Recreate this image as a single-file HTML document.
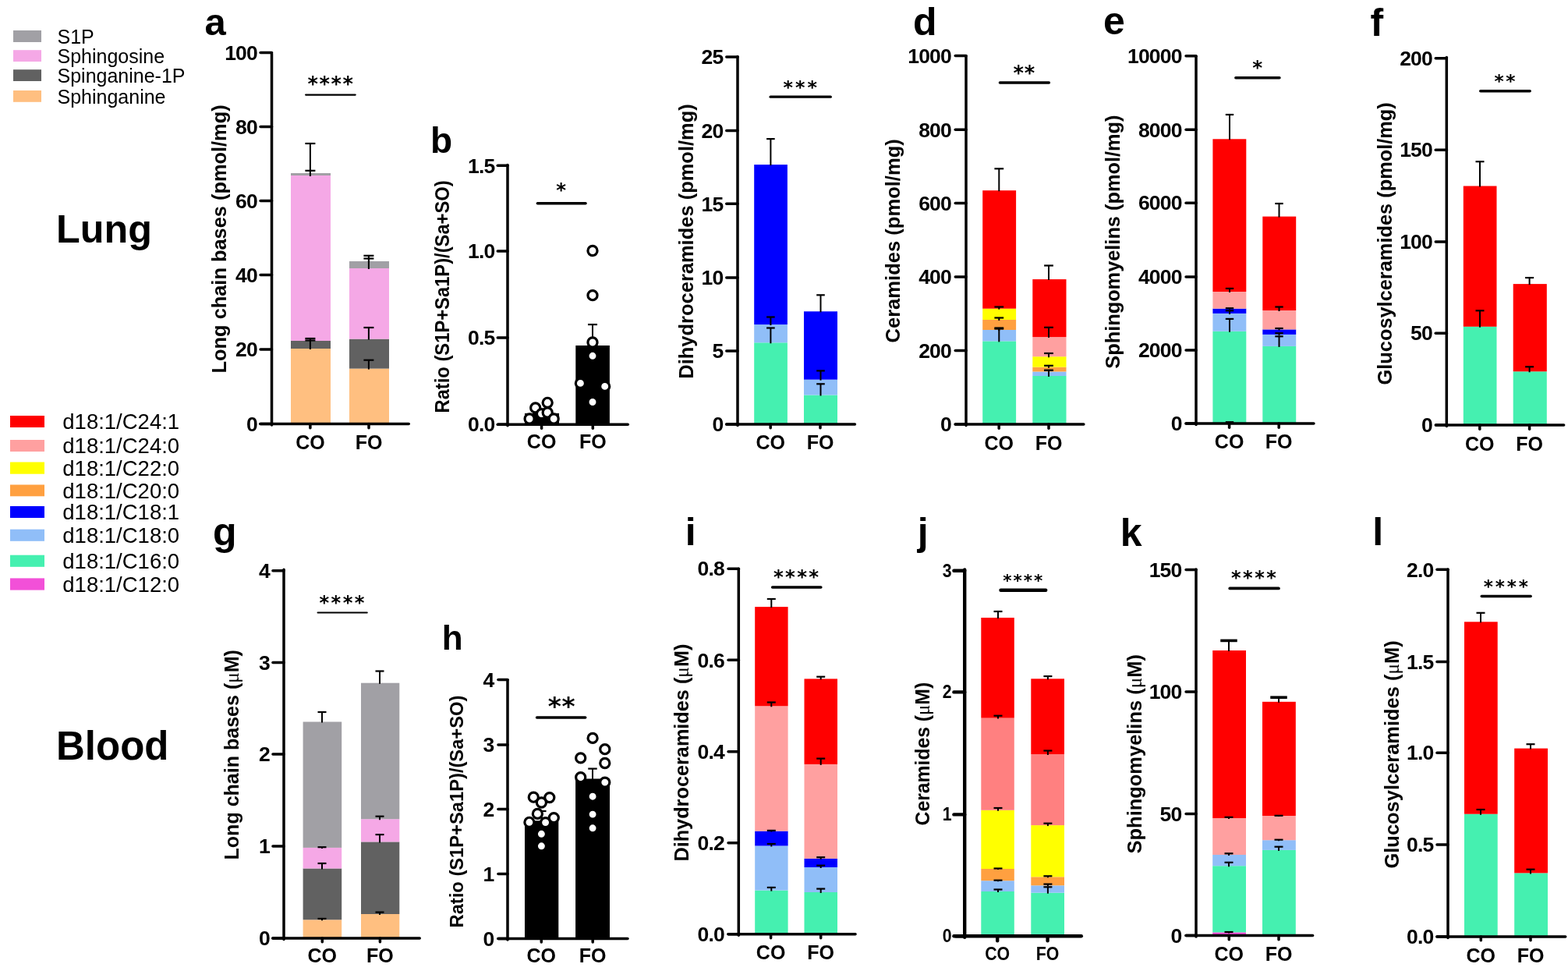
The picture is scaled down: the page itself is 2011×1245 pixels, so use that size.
<!DOCTYPE html>
<html><head><meta charset="utf-8"><title>Sphingolipid profiles in lung and blood</title>
<style>html,body{margin:0;padding:0;background:#fff;width:2011px;height:1245px;overflow:hidden}svg{display:block}</style>
</head><body>
<svg width="2011" height="1245" viewBox="0 0 2011 1245">
<rect width="2011" height="1245" fill="#fff"/>
<rect x="373" y="447" width="51" height="96.5" fill="#FFBF80"/>
<rect x="373" y="437" width="51" height="10" fill="#616161"/>
<rect x="373" y="225" width="51" height="212" fill="#F5A8E6"/>
<rect x="373" y="222" width="51" height="3" fill="#A1A0A5"/>
<rect x="448" y="472.6" width="51" height="70.9" fill="#FFBF80"/>
<rect x="448" y="434.6" width="51" height="38" fill="#616161"/>
<rect x="448" y="344" width="51" height="90.6" fill="#F5A8E6"/>
<rect x="448" y="335" width="51" height="9" fill="#A1A0A5"/>
<line x1="397.9" y1="226" x2="397.9" y2="218.8" stroke="#000" stroke-width="2" stroke-linecap="butt"/>
<line x1="391.4" y1="218.8" x2="404.4" y2="218.8" stroke="#000" stroke-width="2.2" stroke-linecap="butt"/>
<line x1="397.9" y1="223" x2="397.9" y2="184" stroke="#000" stroke-width="2" stroke-linecap="butt"/>
<line x1="391.4" y1="184" x2="404.4" y2="184" stroke="#000" stroke-width="2.2" stroke-linecap="butt"/>
<line x1="397.9" y1="448" x2="397.9" y2="436.5" stroke="#000" stroke-width="2" stroke-linecap="butt"/>
<line x1="391.4" y1="436.5" x2="404.4" y2="436.5" stroke="#000" stroke-width="2.2" stroke-linecap="butt"/>
<line x1="397.9" y1="438" x2="397.9" y2="434" stroke="#000" stroke-width="2" stroke-linecap="butt"/>
<line x1="391.4" y1="434" x2="404.4" y2="434" stroke="#000" stroke-width="2.2" stroke-linecap="butt"/>
<line x1="472.9" y1="336" x2="472.9" y2="327.8" stroke="#000" stroke-width="2" stroke-linecap="butt"/>
<line x1="466.4" y1="327.8" x2="479.4" y2="327.8" stroke="#000" stroke-width="2.2" stroke-linecap="butt"/>
<line x1="472.9" y1="345" x2="472.9" y2="331.5" stroke="#000" stroke-width="2" stroke-linecap="butt"/>
<line x1="466.4" y1="331.5" x2="479.4" y2="331.5" stroke="#000" stroke-width="2.2" stroke-linecap="butt"/>
<line x1="472.9" y1="435.6" x2="472.9" y2="420" stroke="#000" stroke-width="2" stroke-linecap="butt"/>
<line x1="466.4" y1="420" x2="479.4" y2="420" stroke="#000" stroke-width="2.2" stroke-linecap="butt"/>
<line x1="472.9" y1="473.6" x2="472.9" y2="461.7" stroke="#000" stroke-width="2" stroke-linecap="butt"/>
<line x1="466.4" y1="461.7" x2="479.4" y2="461.7" stroke="#000" stroke-width="2.2" stroke-linecap="butt"/>
<line x1="348.5" y1="68.75" x2="348.5" y2="545" stroke="#000" stroke-width="3.5" stroke-linecap="round"/>
<line x1="333.75" y1="543.5" x2="524.25" y2="543.5" stroke="#000" stroke-width="3.5" stroke-linecap="round"/>
<line x1="334.05" y1="67.5" x2="348.5" y2="67.5" stroke="#000" stroke-width="3.5" stroke-linecap="round"/>
<text x="330" y="76.7" font-family='"Liberation Sans", Arial, Helvetica, sans-serif' font-size="26.5" font-weight="bold" text-anchor="end" letter-spacing="-0.8">100</text>
<line x1="334.05" y1="162.6" x2="348.5" y2="162.6" stroke="#000" stroke-width="3.5" stroke-linecap="round"/>
<text x="330" y="171.8" font-family='"Liberation Sans", Arial, Helvetica, sans-serif' font-size="26.5" font-weight="bold" text-anchor="end" letter-spacing="-0.8">80</text>
<line x1="334.05" y1="257.6" x2="348.5" y2="257.6" stroke="#000" stroke-width="3.5" stroke-linecap="round"/>
<text x="330" y="266.8" font-family='"Liberation Sans", Arial, Helvetica, sans-serif' font-size="26.5" font-weight="bold" text-anchor="end" letter-spacing="-0.8">60</text>
<line x1="334.05" y1="352.5" x2="348.5" y2="352.5" stroke="#000" stroke-width="3.5" stroke-linecap="round"/>
<text x="330" y="361.7" font-family='"Liberation Sans", Arial, Helvetica, sans-serif' font-size="26.5" font-weight="bold" text-anchor="end" letter-spacing="-0.8">40</text>
<line x1="334.05" y1="448" x2="348.5" y2="448" stroke="#000" stroke-width="3.5" stroke-linecap="round"/>
<text x="330" y="457.2" font-family='"Liberation Sans", Arial, Helvetica, sans-serif' font-size="26.5" font-weight="bold" text-anchor="end" letter-spacing="-0.8">20</text>
<line x1="334.05" y1="543.5" x2="348.5" y2="543.5" stroke="#000" stroke-width="3.5" stroke-linecap="round"/>
<text x="330" y="552.7" font-family='"Liberation Sans", Arial, Helvetica, sans-serif' font-size="26.5" font-weight="bold" text-anchor="end" letter-spacing="-0.8">0</text>
<line x1="397.9" y1="543.5" x2="397.9" y2="548.75" stroke="#000" stroke-width="3.5" stroke-linecap="round"/>
<text x="397.9" y="576" font-family='"Liberation Sans", Arial, Helvetica, sans-serif' font-size="25" font-weight="bold" text-anchor="middle">CO</text>
<line x1="473" y1="543.5" x2="473" y2="548.75" stroke="#000" stroke-width="3.5" stroke-linecap="round"/>
<text x="473" y="576" font-family='"Liberation Sans", Arial, Helvetica, sans-serif' font-size="25" font-weight="bold" text-anchor="middle">FO</text>
<text transform="translate(290,478.4) rotate(-90)" font-family='"Liberation Sans", Arial, Helvetica, sans-serif' font-size="26" font-weight="bold" textLength="344" lengthAdjust="spacingAndGlyphs">Long chain bases (pmol/mg)</text>
<line x1="392.15" y1="121.6" x2="455.65" y2="121.6" stroke="#000" stroke-width="2.3" stroke-linecap="round"/>
<text x="394.49" y="116.64" font-family='"DejaVu Sans", sans-serif' font-weight="bold" font-size="25.67" letter-spacing="1.56">****</text>
<text x="262.5" y="44.5" font-family='"Liberation Sans", Arial, Helvetica, sans-serif' font-size="49" font-weight="bold" text-anchor="start">a</text>
<rect x="673" y="529.9" width="44" height="14.3" fill="#000000"/>
<rect x="738.3" y="443" width="43.6" height="101.2" fill="#000000"/>
<line x1="760" y1="444" x2="760" y2="416.1" stroke="#000" stroke-width="2" stroke-linecap="butt"/>
<line x1="754" y1="416.1" x2="766" y2="416.1" stroke="#000" stroke-width="2.2" stroke-linecap="butt"/>
<circle cx="679.1" cy="537" r="6.05" fill="#fff" stroke="#000" stroke-width="3.2"/>
<circle cx="686.7" cy="522.9" r="6.05" fill="#fff" stroke="#000" stroke-width="3.2"/>
<circle cx="702.2" cy="516.3" r="6.05" fill="#fff" stroke="#000" stroke-width="3.2"/>
<circle cx="694.5" cy="530.6" r="6.05" fill="#fff" stroke="#000" stroke-width="3.2"/>
<circle cx="702.2" cy="529" r="6.05" fill="#fff" stroke="#000" stroke-width="3.2"/>
<circle cx="710.2" cy="537" r="6.05" fill="#fff" stroke="#000" stroke-width="3.2"/>
<circle cx="760" cy="321.5" r="6.05" fill="#fff" stroke="#000" stroke-width="3.2"/>
<circle cx="760" cy="378.7" r="6.05" fill="#fff" stroke="#000" stroke-width="3.2"/>
<circle cx="760" cy="439" r="6.05" fill="#fff" stroke="#000" stroke-width="3.2"/>
<circle cx="760" cy="456.3" r="6.05" fill="#fff" stroke="#000" stroke-width="3.2"/>
<circle cx="744.4" cy="491.4" r="6.05" fill="#fff" stroke="#000" stroke-width="3.2"/>
<circle cx="775.7" cy="495.4" r="6.05" fill="#fff" stroke="#000" stroke-width="3.2"/>
<circle cx="760" cy="515.5" r="6.05" fill="#fff" stroke="#000" stroke-width="3.2"/>
<line x1="651" y1="211.45" x2="651" y2="545.7" stroke="#000" stroke-width="3.5" stroke-linecap="round"/>
<line x1="638.75" y1="544.2" x2="805.25" y2="544.2" stroke="#000" stroke-width="3.5" stroke-linecap="round"/>
<line x1="638.25" y1="212.3" x2="651" y2="212.3" stroke="#000" stroke-width="3.5" stroke-linecap="round"/>
<text x="634.5" y="221.5" font-family='"Liberation Sans", Arial, Helvetica, sans-serif' font-size="26.5" font-weight="bold" text-anchor="end" letter-spacing="-0.8">1.5</text>
<line x1="638.25" y1="322" x2="651" y2="322" stroke="#000" stroke-width="3.5" stroke-linecap="round"/>
<text x="634.5" y="331.2" font-family='"Liberation Sans", Arial, Helvetica, sans-serif' font-size="26.5" font-weight="bold" text-anchor="end" letter-spacing="-0.8">1.0</text>
<line x1="638.25" y1="433" x2="651" y2="433" stroke="#000" stroke-width="3.5" stroke-linecap="round"/>
<text x="634.5" y="442.2" font-family='"Liberation Sans", Arial, Helvetica, sans-serif' font-size="26.5" font-weight="bold" text-anchor="end" letter-spacing="-0.8">0.5</text>
<line x1="638.25" y1="544.2" x2="651" y2="544.2" stroke="#000" stroke-width="3.5" stroke-linecap="round"/>
<text x="634.5" y="553.4" font-family='"Liberation Sans", Arial, Helvetica, sans-serif' font-size="26.5" font-weight="bold" text-anchor="end" letter-spacing="-0.8">0.0</text>
<line x1="694.6" y1="544.2" x2="694.6" y2="549.25" stroke="#000" stroke-width="3.5" stroke-linecap="round"/>
<text x="694.6" y="575.1" font-family='"Liberation Sans", Arial, Helvetica, sans-serif' font-size="25" font-weight="bold" text-anchor="middle">CO</text>
<line x1="760.3" y1="544.2" x2="760.3" y2="549.25" stroke="#000" stroke-width="3.5" stroke-linecap="round"/>
<text x="760.3" y="575.1" font-family='"Liberation Sans", Arial, Helvetica, sans-serif' font-size="25" font-weight="bold" text-anchor="middle">FO</text>
<text transform="translate(576,529.5) rotate(-90)" font-family='"Liberation Sans", Arial, Helvetica, sans-serif' font-size="25" font-weight="bold" textLength="298.2" lengthAdjust="spacingAndGlyphs">Ratio (S1P+Sa1P)/(Sa+SO)</text>
<line x1="689.35" y1="260.7" x2="751.05" y2="260.7" stroke="#000" stroke-width="3.5" stroke-linecap="round"/>
<text x="713.21" y="252.39" font-family='"DejaVu Sans", sans-serif' font-weight="bold" font-size="24.44" letter-spacing="0">*</text>
<text x="552" y="196.3" font-family='"Liberation Sans", Arial, Helvetica, sans-serif' font-size="46" font-weight="bold" text-anchor="start">b</text>
<rect x="967.2" y="439.3" width="42.7" height="104.6" fill="#45F0B0"/>
<rect x="967.2" y="416.1" width="42.7" height="23.2" fill="#90BEF8"/>
<rect x="967.2" y="211.1" width="42.7" height="205" fill="#0000FF"/>
<rect x="1031" y="506.5" width="43" height="37.4" fill="#45F0B0"/>
<rect x="1031" y="486.7" width="43" height="19.8" fill="#90BEF8"/>
<rect x="1031" y="399.3" width="43" height="87.4" fill="#0000FF"/>
<line x1="988.4" y1="212.1" x2="988.4" y2="178.1" stroke="#000" stroke-width="2" stroke-linecap="butt"/>
<line x1="983.1" y1="178.1" x2="993.7" y2="178.1" stroke="#000" stroke-width="2.2" stroke-linecap="butt"/>
<line x1="988.4" y1="417.1" x2="988.4" y2="406.5" stroke="#000" stroke-width="2" stroke-linecap="butt"/>
<line x1="983.1" y1="406.5" x2="993.7" y2="406.5" stroke="#000" stroke-width="2.2" stroke-linecap="butt"/>
<line x1="988.4" y1="440.3" x2="988.4" y2="420.5" stroke="#000" stroke-width="2" stroke-linecap="butt"/>
<line x1="983.1" y1="420.5" x2="993.7" y2="420.5" stroke="#000" stroke-width="2.2" stroke-linecap="butt"/>
<line x1="1052.5" y1="400.3" x2="1052.5" y2="378.3" stroke="#000" stroke-width="2" stroke-linecap="butt"/>
<line x1="1047.2" y1="378.3" x2="1057.8" y2="378.3" stroke="#000" stroke-width="2.2" stroke-linecap="butt"/>
<line x1="1052.5" y1="487.7" x2="1052.5" y2="475.4" stroke="#000" stroke-width="2" stroke-linecap="butt"/>
<line x1="1047.2" y1="475.4" x2="1057.8" y2="475.4" stroke="#000" stroke-width="2.2" stroke-linecap="butt"/>
<line x1="1052.5" y1="507.5" x2="1052.5" y2="492.3" stroke="#000" stroke-width="2" stroke-linecap="butt"/>
<line x1="1047.2" y1="492.3" x2="1057.8" y2="492.3" stroke="#000" stroke-width="2.2" stroke-linecap="butt"/>
<line x1="946" y1="72.45" x2="946" y2="545.4" stroke="#000" stroke-width="3.5" stroke-linecap="round"/>
<line x1="931.75" y1="543.9" x2="1096.45" y2="543.9" stroke="#000" stroke-width="3.5" stroke-linecap="round"/>
<line x1="931.75" y1="73.1" x2="946" y2="73.1" stroke="#000" stroke-width="3.5" stroke-linecap="round"/>
<text x="927.5" y="82.3" font-family='"Liberation Sans", Arial, Helvetica, sans-serif' font-size="26.5" font-weight="bold" text-anchor="end" letter-spacing="-0.8">25</text>
<line x1="931.75" y1="167.5" x2="946" y2="167.5" stroke="#000" stroke-width="3.5" stroke-linecap="round"/>
<text x="927.5" y="176.7" font-family='"Liberation Sans", Arial, Helvetica, sans-serif' font-size="26.5" font-weight="bold" text-anchor="end" letter-spacing="-0.8">20</text>
<line x1="931.75" y1="261.3" x2="946" y2="261.3" stroke="#000" stroke-width="3.5" stroke-linecap="round"/>
<text x="927.5" y="270.5" font-family='"Liberation Sans", Arial, Helvetica, sans-serif' font-size="26.5" font-weight="bold" text-anchor="end" letter-spacing="-0.8">15</text>
<line x1="931.75" y1="355.9" x2="946" y2="355.9" stroke="#000" stroke-width="3.5" stroke-linecap="round"/>
<text x="927.5" y="365.1" font-family='"Liberation Sans", Arial, Helvetica, sans-serif' font-size="26.5" font-weight="bold" text-anchor="end" letter-spacing="-0.8">10</text>
<line x1="931.75" y1="449.9" x2="946" y2="449.9" stroke="#000" stroke-width="3.5" stroke-linecap="round"/>
<text x="927.5" y="459.1" font-family='"Liberation Sans", Arial, Helvetica, sans-serif' font-size="26.5" font-weight="bold" text-anchor="end" letter-spacing="-0.8">5</text>
<line x1="931.75" y1="543.9" x2="946" y2="543.9" stroke="#000" stroke-width="3.5" stroke-linecap="round"/>
<text x="927.5" y="553.1" font-family='"Liberation Sans", Arial, Helvetica, sans-serif' font-size="26.5" font-weight="bold" text-anchor="end" letter-spacing="-0.8">0</text>
<line x1="988.2" y1="543.9" x2="988.2" y2="548.85" stroke="#000" stroke-width="3.5" stroke-linecap="round"/>
<text x="988.2" y="576" font-family='"Liberation Sans", Arial, Helvetica, sans-serif' font-size="25" font-weight="bold" text-anchor="middle">CO</text>
<line x1="1052" y1="543.9" x2="1052" y2="548.85" stroke="#000" stroke-width="3.5" stroke-linecap="round"/>
<text x="1052" y="576" font-family='"Liberation Sans", Arial, Helvetica, sans-serif' font-size="25" font-weight="bold" text-anchor="middle">FO</text>
<text transform="translate(889,485.7) rotate(-90)" font-family='"Liberation Sans", Arial, Helvetica, sans-serif' font-size="25" font-weight="bold" textLength="352.5" lengthAdjust="spacingAndGlyphs">Dihydroceramides (pmol/mg)</text>
<line x1="988.1" y1="124.2" x2="1065.3" y2="124.2" stroke="#000" stroke-width="3.2" stroke-linecap="round"/>
<text x="1004.52" y="119.5" font-family='"DejaVu Sans", sans-serif' font-weight="bold" font-size="23.78" letter-spacing="3.08">***</text>
<rect x="1260.2" y="437.4" width="42.9" height="106.6" fill="#45F0B0"/>
<rect x="1260.2" y="423" width="42.9" height="14.4" fill="#90BEF8"/>
<rect x="1260.2" y="410" width="42.9" height="13" fill="#FFA040"/>
<rect x="1260.2" y="395.7" width="42.9" height="14.3" fill="#FFFF00"/>
<rect x="1260.2" y="244.2" width="42.9" height="151.5" fill="#FF0000"/>
<rect x="1324.3" y="482" width="43.2" height="62" fill="#45F0B0"/>
<rect x="1324.3" y="476.5" width="43.2" height="5.5" fill="#90BEF8"/>
<rect x="1324.3" y="470.7" width="43.2" height="5.8" fill="#FFA040"/>
<rect x="1324.3" y="457.2" width="43.2" height="13.5" fill="#FFFF00"/>
<rect x="1324.3" y="432.1" width="43.2" height="25.1" fill="#FFA0A0"/>
<rect x="1324.3" y="358.1" width="43.2" height="74" fill="#FF0000"/>
<line x1="1281.3" y1="245.2" x2="1281.3" y2="216.3" stroke="#000" stroke-width="2" stroke-linecap="butt"/>
<line x1="1275.4" y1="216.3" x2="1287.2" y2="216.3" stroke="#000" stroke-width="2.2" stroke-linecap="butt"/>
<line x1="1281.3" y1="396.7" x2="1281.3" y2="393.5" stroke="#000" stroke-width="2" stroke-linecap="butt"/>
<line x1="1275.4" y1="393.5" x2="1287.2" y2="393.5" stroke="#000" stroke-width="2.2" stroke-linecap="butt"/>
<line x1="1281.3" y1="411" x2="1281.3" y2="407.5" stroke="#000" stroke-width="2" stroke-linecap="butt"/>
<line x1="1275.4" y1="407.5" x2="1287.2" y2="407.5" stroke="#000" stroke-width="2.2" stroke-linecap="butt"/>
<line x1="1281.3" y1="424" x2="1281.3" y2="420.5" stroke="#000" stroke-width="2" stroke-linecap="butt"/>
<line x1="1275.4" y1="420.5" x2="1287.2" y2="420.5" stroke="#000" stroke-width="2.2" stroke-linecap="butt"/>
<line x1="1281.3" y1="438.4" x2="1281.3" y2="421.5" stroke="#000" stroke-width="2" stroke-linecap="butt"/>
<line x1="1275.4" y1="421.5" x2="1287.2" y2="421.5" stroke="#000" stroke-width="2.2" stroke-linecap="butt"/>
<line x1="1345" y1="359.1" x2="1345" y2="340.5" stroke="#000" stroke-width="2" stroke-linecap="butt"/>
<line x1="1339.1" y1="340.5" x2="1350.9" y2="340.5" stroke="#000" stroke-width="2.2" stroke-linecap="butt"/>
<line x1="1345" y1="433.1" x2="1345" y2="419.8" stroke="#000" stroke-width="2" stroke-linecap="butt"/>
<line x1="1339.1" y1="419.8" x2="1350.9" y2="419.8" stroke="#000" stroke-width="2.2" stroke-linecap="butt"/>
<line x1="1345" y1="458.2" x2="1345" y2="453" stroke="#000" stroke-width="2" stroke-linecap="butt"/>
<line x1="1339.1" y1="453" x2="1350.9" y2="453" stroke="#000" stroke-width="2.2" stroke-linecap="butt"/>
<line x1="1345" y1="471.7" x2="1345" y2="468.8" stroke="#000" stroke-width="2" stroke-linecap="butt"/>
<line x1="1339.1" y1="468.8" x2="1350.9" y2="468.8" stroke="#000" stroke-width="2.2" stroke-linecap="butt"/>
<line x1="1345" y1="477.5" x2="1345" y2="474.8" stroke="#000" stroke-width="2" stroke-linecap="butt"/>
<line x1="1339.1" y1="474.8" x2="1350.9" y2="474.8" stroke="#000" stroke-width="2.2" stroke-linecap="butt"/>
<line x1="1345" y1="483" x2="1345" y2="474.8" stroke="#000" stroke-width="2" stroke-linecap="butt"/>
<line x1="1339.1" y1="474.8" x2="1350.9" y2="474.8" stroke="#000" stroke-width="2.2" stroke-linecap="butt"/>
<line x1="1239" y1="71.65" x2="1239" y2="545.5" stroke="#000" stroke-width="3.5" stroke-linecap="round"/>
<line x1="1225.25" y1="544" x2="1389.85" y2="544" stroke="#000" stroke-width="3.5" stroke-linecap="round"/>
<line x1="1225.25" y1="71.6" x2="1239" y2="71.6" stroke="#000" stroke-width="3.5" stroke-linecap="round"/>
<text x="1220" y="80.8" font-family='"Liberation Sans", Arial, Helvetica, sans-serif' font-size="26.5" font-weight="bold" text-anchor="end" letter-spacing="-0.8">1000</text>
<line x1="1225.25" y1="166.3" x2="1239" y2="166.3" stroke="#000" stroke-width="3.5" stroke-linecap="round"/>
<text x="1220" y="175.5" font-family='"Liberation Sans", Arial, Helvetica, sans-serif' font-size="26.5" font-weight="bold" text-anchor="end" letter-spacing="-0.8">800</text>
<line x1="1225.25" y1="260.4" x2="1239" y2="260.4" stroke="#000" stroke-width="3.5" stroke-linecap="round"/>
<text x="1220" y="269.6" font-family='"Liberation Sans", Arial, Helvetica, sans-serif' font-size="26.5" font-weight="bold" text-anchor="end" letter-spacing="-0.8">600</text>
<line x1="1225.25" y1="355" x2="1239" y2="355" stroke="#000" stroke-width="3.5" stroke-linecap="round"/>
<text x="1220" y="364.2" font-family='"Liberation Sans", Arial, Helvetica, sans-serif' font-size="26.5" font-weight="bold" text-anchor="end" letter-spacing="-0.8">400</text>
<line x1="1225.25" y1="449.5" x2="1239" y2="449.5" stroke="#000" stroke-width="3.5" stroke-linecap="round"/>
<text x="1220" y="458.7" font-family='"Liberation Sans", Arial, Helvetica, sans-serif' font-size="26.5" font-weight="bold" text-anchor="end" letter-spacing="-0.8">200</text>
<line x1="1225.25" y1="544" x2="1239" y2="544" stroke="#000" stroke-width="3.5" stroke-linecap="round"/>
<text x="1220" y="553.2" font-family='"Liberation Sans", Arial, Helvetica, sans-serif' font-size="26.5" font-weight="bold" text-anchor="end" letter-spacing="-0.8">0</text>
<line x1="1281.2" y1="544" x2="1281.2" y2="549.25" stroke="#000" stroke-width="3.5" stroke-linecap="round"/>
<text x="1281.2" y="576.8" font-family='"Liberation Sans", Arial, Helvetica, sans-serif' font-size="25" font-weight="bold" text-anchor="middle">CO</text>
<line x1="1345" y1="544" x2="1345" y2="549.25" stroke="#000" stroke-width="3.5" stroke-linecap="round"/>
<text x="1345" y="576.8" font-family='"Liberation Sans", Arial, Helvetica, sans-serif' font-size="25" font-weight="bold" text-anchor="middle">FO</text>
<text transform="translate(1153.5,439.5) rotate(-90)" font-family='"Liberation Sans", Arial, Helvetica, sans-serif' font-size="25" font-weight="bold" textLength="261.3" lengthAdjust="spacingAndGlyphs">Ceramides (pmol/mg)</text>
<line x1="1282.45" y1="105.9" x2="1345.35" y2="105.9" stroke="#000" stroke-width="3.5" stroke-linecap="round"/>
<text x="1299.48" y="102.78" font-family='"DejaVu Sans", sans-serif' font-weight="bold" font-size="25.78" letter-spacing="0.9">**</text>
<text x="1171" y="44.6" font-family='"Liberation Sans", Arial, Helvetica, sans-serif' font-size="50" font-weight="bold" text-anchor="start">d</text>
<rect x="1555.4" y="424.8" width="42.9" height="118.2" fill="#45F0B0"/>
<rect x="1555.4" y="401.9" width="42.9" height="22.9" fill="#90BEF8"/>
<rect x="1555.4" y="395.7" width="42.9" height="6.2" fill="#0000FF"/>
<rect x="1555.4" y="374" width="42.9" height="21.7" fill="#FFA0A0"/>
<rect x="1555.4" y="178.3" width="42.9" height="195.7" fill="#FF0000"/>
<rect x="1619.3" y="443.9" width="42.9" height="99.1" fill="#45F0B0"/>
<rect x="1619.3" y="428.9" width="42.9" height="15" fill="#90BEF8"/>
<rect x="1619.3" y="422.4" width="42.9" height="6.5" fill="#0000FF"/>
<rect x="1619.3" y="398" width="42.9" height="24.4" fill="#FFA0A0"/>
<rect x="1619.3" y="277.6" width="42.9" height="120.4" fill="#FF0000"/>
<line x1="1577" y1="179.3" x2="1577" y2="147" stroke="#000" stroke-width="2" stroke-linecap="butt"/>
<line x1="1571.8" y1="147" x2="1582.2" y2="147" stroke="#000" stroke-width="2.2" stroke-linecap="butt"/>
<line x1="1577" y1="375" x2="1577" y2="369.9" stroke="#000" stroke-width="2" stroke-linecap="butt"/>
<line x1="1571.8" y1="369.9" x2="1582.2" y2="369.9" stroke="#000" stroke-width="2.2" stroke-linecap="butt"/>
<line x1="1577" y1="396.7" x2="1577" y2="395.2" stroke="#000" stroke-width="2" stroke-linecap="butt"/>
<line x1="1571.8" y1="395.2" x2="1582.2" y2="395.2" stroke="#000" stroke-width="2.2" stroke-linecap="butt"/>
<line x1="1577" y1="402.9" x2="1577" y2="398.3" stroke="#000" stroke-width="2" stroke-linecap="butt"/>
<line x1="1571.8" y1="398.3" x2="1582.2" y2="398.3" stroke="#000" stroke-width="2.2" stroke-linecap="butt"/>
<line x1="1577" y1="425.8" x2="1577" y2="408.9" stroke="#000" stroke-width="2" stroke-linecap="butt"/>
<line x1="1571.8" y1="408.9" x2="1582.2" y2="408.9" stroke="#000" stroke-width="2.2" stroke-linecap="butt"/>
<line x1="1577" y1="542.5" x2="1577" y2="541.2" stroke="#000" stroke-width="2" stroke-linecap="butt"/>
<line x1="1571.8" y1="541.2" x2="1582.2" y2="541.2" stroke="#000" stroke-width="2.2" stroke-linecap="butt"/>
<line x1="1640.5" y1="278.6" x2="1640.5" y2="261" stroke="#000" stroke-width="2" stroke-linecap="butt"/>
<line x1="1635.3" y1="261" x2="1645.7" y2="261" stroke="#000" stroke-width="2.2" stroke-linecap="butt"/>
<line x1="1640.5" y1="399" x2="1640.5" y2="393.5" stroke="#000" stroke-width="2" stroke-linecap="butt"/>
<line x1="1635.3" y1="393.5" x2="1645.7" y2="393.5" stroke="#000" stroke-width="2.2" stroke-linecap="butt"/>
<line x1="1640.5" y1="423.4" x2="1640.5" y2="421" stroke="#000" stroke-width="2" stroke-linecap="butt"/>
<line x1="1635.3" y1="421" x2="1645.7" y2="421" stroke="#000" stroke-width="2.2" stroke-linecap="butt"/>
<line x1="1640.5" y1="429.9" x2="1640.5" y2="427.2" stroke="#000" stroke-width="2" stroke-linecap="butt"/>
<line x1="1635.3" y1="427.2" x2="1645.7" y2="427.2" stroke="#000" stroke-width="2.2" stroke-linecap="butt"/>
<line x1="1640.5" y1="444.9" x2="1640.5" y2="431.3" stroke="#000" stroke-width="2" stroke-linecap="butt"/>
<line x1="1635.3" y1="431.3" x2="1645.7" y2="431.3" stroke="#000" stroke-width="2.2" stroke-linecap="butt"/>
<line x1="1534" y1="72.35" x2="1534" y2="544.5" stroke="#000" stroke-width="3.5" stroke-linecap="round"/>
<line x1="1521.05" y1="543" x2="1684.95" y2="543" stroke="#000" stroke-width="3.5" stroke-linecap="round"/>
<line x1="1521.05" y1="71.8" x2="1534" y2="71.8" stroke="#000" stroke-width="3.5" stroke-linecap="round"/>
<text x="1515.7" y="81" font-family='"Liberation Sans", Arial, Helvetica, sans-serif' font-size="26.5" font-weight="bold" text-anchor="end" letter-spacing="-0.8">10000</text>
<line x1="1521.05" y1="166.3" x2="1534" y2="166.3" stroke="#000" stroke-width="3.5" stroke-linecap="round"/>
<text x="1515.7" y="175.5" font-family='"Liberation Sans", Arial, Helvetica, sans-serif' font-size="26.5" font-weight="bold" text-anchor="end" letter-spacing="-0.8">8000</text>
<line x1="1521.05" y1="260.2" x2="1534" y2="260.2" stroke="#000" stroke-width="3.5" stroke-linecap="round"/>
<text x="1515.7" y="269.4" font-family='"Liberation Sans", Arial, Helvetica, sans-serif' font-size="26.5" font-weight="bold" text-anchor="end" letter-spacing="-0.8">6000</text>
<line x1="1521.05" y1="354.9" x2="1534" y2="354.9" stroke="#000" stroke-width="3.5" stroke-linecap="round"/>
<text x="1515.7" y="364.1" font-family='"Liberation Sans", Arial, Helvetica, sans-serif' font-size="26.5" font-weight="bold" text-anchor="end" letter-spacing="-0.8">4000</text>
<line x1="1521.05" y1="448.9" x2="1534" y2="448.9" stroke="#000" stroke-width="3.5" stroke-linecap="round"/>
<text x="1515.7" y="458.1" font-family='"Liberation Sans", Arial, Helvetica, sans-serif' font-size="26.5" font-weight="bold" text-anchor="end" letter-spacing="-0.8">2000</text>
<line x1="1521.05" y1="543" x2="1534" y2="543" stroke="#000" stroke-width="3.5" stroke-linecap="round"/>
<text x="1515.7" y="552.2" font-family='"Liberation Sans", Arial, Helvetica, sans-serif' font-size="26.5" font-weight="bold" text-anchor="end" letter-spacing="-0.8">0</text>
<line x1="1576.6" y1="543" x2="1576.6" y2="548.25" stroke="#000" stroke-width="3.5" stroke-linecap="round"/>
<text x="1576.6" y="575.4" font-family='"Liberation Sans", Arial, Helvetica, sans-serif' font-size="25" font-weight="bold" text-anchor="middle">CO</text>
<line x1="1640.2" y1="543" x2="1640.2" y2="548.25" stroke="#000" stroke-width="3.5" stroke-linecap="round"/>
<text x="1640.2" y="575.4" font-family='"Liberation Sans", Arial, Helvetica, sans-serif' font-size="25" font-weight="bold" text-anchor="middle">FO</text>
<text transform="translate(1435.5,472.7) rotate(-90)" font-family='"Liberation Sans", Arial, Helvetica, sans-serif' font-size="25" font-weight="bold" textLength="325.1" lengthAdjust="spacingAndGlyphs">Sphingomyelins (pmol/mg)</text>
<line x1="1584.9" y1="99.7" x2="1640.9" y2="99.7" stroke="#000" stroke-width="3.6" stroke-linecap="round"/>
<text x="1606.21" y="95.15" font-family='"DejaVu Sans", sans-serif' font-weight="bold" font-size="24.67" letter-spacing="0">*</text>
<text x="1415" y="44.3" font-family='"Liberation Sans", Arial, Helvetica, sans-serif' font-size="50" font-weight="bold" text-anchor="start">e</text>
<rect x="1876.8" y="418.8" width="42.7" height="126.2" fill="#45F0B0"/>
<rect x="1876.8" y="238.5" width="42.7" height="180.3" fill="#FF0000"/>
<rect x="1940.7" y="476.3" width="43.1" height="68.7" fill="#45F0B0"/>
<rect x="1940.7" y="364.1" width="43.1" height="112.2" fill="#FF0000"/>
<line x1="1898" y1="239.5" x2="1898" y2="207.2" stroke="#000" stroke-width="2" stroke-linecap="butt"/>
<line x1="1892.5" y1="207.2" x2="1903.5" y2="207.2" stroke="#000" stroke-width="2.2" stroke-linecap="butt"/>
<line x1="1898" y1="419.8" x2="1898" y2="398.3" stroke="#000" stroke-width="2" stroke-linecap="butt"/>
<line x1="1892.5" y1="398.3" x2="1903.5" y2="398.3" stroke="#000" stroke-width="2.2" stroke-linecap="butt"/>
<line x1="1961.6" y1="365.1" x2="1961.6" y2="356.1" stroke="#000" stroke-width="2" stroke-linecap="butt"/>
<line x1="1956.1" y1="356.1" x2="1967.1" y2="356.1" stroke="#000" stroke-width="2.2" stroke-linecap="butt"/>
<line x1="1961.6" y1="477.3" x2="1961.6" y2="470.3" stroke="#000" stroke-width="2" stroke-linecap="butt"/>
<line x1="1956.1" y1="470.3" x2="1967.1" y2="470.3" stroke="#000" stroke-width="2.2" stroke-linecap="butt"/>
<line x1="1855.3" y1="73.55" x2="1855.3" y2="546.5" stroke="#000" stroke-width="3.5" stroke-linecap="round"/>
<line x1="1841.75" y1="545" x2="2005.65" y2="545" stroke="#000" stroke-width="3.5" stroke-linecap="round"/>
<line x1="1841.25" y1="74.7" x2="1855.3" y2="74.7" stroke="#000" stroke-width="3.5" stroke-linecap="round"/>
<text x="1837" y="83.9" font-family='"Liberation Sans", Arial, Helvetica, sans-serif' font-size="26.5" font-weight="bold" text-anchor="end" letter-spacing="-0.8">200</text>
<line x1="1841.25" y1="192.2" x2="1855.3" y2="192.2" stroke="#000" stroke-width="3.5" stroke-linecap="round"/>
<text x="1837" y="201.4" font-family='"Liberation Sans", Arial, Helvetica, sans-serif' font-size="26.5" font-weight="bold" text-anchor="end" letter-spacing="-0.8">150</text>
<line x1="1841.25" y1="309.9" x2="1855.3" y2="309.9" stroke="#000" stroke-width="3.5" stroke-linecap="round"/>
<text x="1837" y="319.1" font-family='"Liberation Sans", Arial, Helvetica, sans-serif' font-size="26.5" font-weight="bold" text-anchor="end" letter-spacing="-0.8">100</text>
<line x1="1841.25" y1="427.2" x2="1855.3" y2="427.2" stroke="#000" stroke-width="3.5" stroke-linecap="round"/>
<text x="1837" y="436.4" font-family='"Liberation Sans", Arial, Helvetica, sans-serif' font-size="26.5" font-weight="bold" text-anchor="end" letter-spacing="-0.8">50</text>
<line x1="1841.25" y1="545" x2="1855.3" y2="545" stroke="#000" stroke-width="3.5" stroke-linecap="round"/>
<text x="1837" y="554.2" font-family='"Liberation Sans", Arial, Helvetica, sans-serif' font-size="26.5" font-weight="bold" text-anchor="end" letter-spacing="-0.8">0</text>
<line x1="1897.8" y1="545" x2="1897.8" y2="550.25" stroke="#000" stroke-width="3.5" stroke-linecap="round"/>
<text x="1897.8" y="577.5" font-family='"Liberation Sans", Arial, Helvetica, sans-serif' font-size="25" font-weight="bold" text-anchor="middle">CO</text>
<line x1="1961.6" y1="545" x2="1961.6" y2="550.25" stroke="#000" stroke-width="3.5" stroke-linecap="round"/>
<text x="1961.6" y="577.5" font-family='"Liberation Sans", Arial, Helvetica, sans-serif' font-size="25" font-weight="bold" text-anchor="middle">FO</text>
<text transform="translate(1785,493.5) rotate(-90)" font-family='"Liberation Sans", Arial, Helvetica, sans-serif' font-size="25" font-weight="bold" textLength="362.3" lengthAdjust="spacingAndGlyphs">Glucosylceramides (pmol/mg)</text>
<line x1="1898.8" y1="116.7" x2="1962.1" y2="116.7" stroke="#000" stroke-width="3.6" stroke-linecap="round"/>
<text x="1916.53" y="111.57" font-family='"DejaVu Sans", sans-serif' font-weight="bold" font-size="23.33" letter-spacing="2.63">**</text>
<text x="1757.5" y="45.8" font-family='"Liberation Sans", Arial, Helvetica, sans-serif' font-size="50" font-weight="bold" text-anchor="start">f</text>
<rect x="388.6" y="1179.3" width="49.6" height="23.7" fill="#FFBF80"/>
<rect x="388.6" y="1113.5" width="49.6" height="65.8" fill="#616161"/>
<rect x="388.6" y="1086.9" width="49.6" height="26.6" fill="#F5A8E6"/>
<rect x="388.6" y="925.5" width="49.6" height="161.4" fill="#A1A0A5"/>
<rect x="463" y="1172" width="49.3" height="31" fill="#FFBF80"/>
<rect x="463" y="1079.4" width="49.3" height="92.6" fill="#616161"/>
<rect x="463" y="1050.2" width="49.3" height="29.2" fill="#F5A8E6"/>
<rect x="463" y="875.7" width="49.3" height="174.5" fill="#A1A0A5"/>
<line x1="413" y1="926.5" x2="413" y2="913" stroke="#000" stroke-width="2" stroke-linecap="butt"/>
<line x1="407.5" y1="913" x2="418.5" y2="913" stroke="#000" stroke-width="2.2" stroke-linecap="butt"/>
<line x1="413" y1="1087.9" x2="413" y2="1086.2" stroke="#000" stroke-width="2" stroke-linecap="butt"/>
<line x1="407.5" y1="1086.2" x2="418.5" y2="1086.2" stroke="#000" stroke-width="2.2" stroke-linecap="butt"/>
<line x1="413" y1="1114.5" x2="413" y2="1107" stroke="#000" stroke-width="2" stroke-linecap="butt"/>
<line x1="407.5" y1="1107" x2="418.5" y2="1107" stroke="#000" stroke-width="2.2" stroke-linecap="butt"/>
<line x1="413" y1="1180.3" x2="413" y2="1177.9" stroke="#000" stroke-width="2" stroke-linecap="butt"/>
<line x1="407.5" y1="1177.9" x2="418.5" y2="1177.9" stroke="#000" stroke-width="2.2" stroke-linecap="butt"/>
<line x1="487" y1="876.7" x2="487" y2="860.5" stroke="#000" stroke-width="2" stroke-linecap="butt"/>
<line x1="481.5" y1="860.5" x2="492.5" y2="860.5" stroke="#000" stroke-width="2.2" stroke-linecap="butt"/>
<line x1="487" y1="1051.2" x2="487" y2="1046.7" stroke="#000" stroke-width="2" stroke-linecap="butt"/>
<line x1="481.5" y1="1046.7" x2="492.5" y2="1046.7" stroke="#000" stroke-width="2.2" stroke-linecap="butt"/>
<line x1="487" y1="1080.4" x2="487" y2="1070.1" stroke="#000" stroke-width="2" stroke-linecap="butt"/>
<line x1="481.5" y1="1070.1" x2="492.5" y2="1070.1" stroke="#000" stroke-width="2.2" stroke-linecap="butt"/>
<line x1="487" y1="1173" x2="487" y2="1169.6" stroke="#000" stroke-width="2" stroke-linecap="butt"/>
<line x1="481.5" y1="1169.6" x2="492.5" y2="1169.6" stroke="#000" stroke-width="2.2" stroke-linecap="butt"/>
<line x1="364" y1="730.25" x2="364" y2="1204.5" stroke="#000" stroke-width="3.5" stroke-linecap="round"/>
<line x1="349.75" y1="1203" x2="538.25" y2="1203" stroke="#000" stroke-width="3.5" stroke-linecap="round"/>
<line x1="349.95" y1="731.8" x2="364" y2="731.8" stroke="#000" stroke-width="3.5" stroke-linecap="round"/>
<text x="346" y="741" font-family='"Liberation Sans", Arial, Helvetica, sans-serif' font-size="26.5" font-weight="bold" text-anchor="end" letter-spacing="-0.8">4</text>
<line x1="349.95" y1="849.6" x2="364" y2="849.6" stroke="#000" stroke-width="3.5" stroke-linecap="round"/>
<text x="346" y="858.8" font-family='"Liberation Sans", Arial, Helvetica, sans-serif' font-size="26.5" font-weight="bold" text-anchor="end" letter-spacing="-0.8">3</text>
<line x1="349.95" y1="967" x2="364" y2="967" stroke="#000" stroke-width="3.5" stroke-linecap="round"/>
<text x="346" y="976.2" font-family='"Liberation Sans", Arial, Helvetica, sans-serif' font-size="26.5" font-weight="bold" text-anchor="end" letter-spacing="-0.8">2</text>
<line x1="349.95" y1="1085" x2="364" y2="1085" stroke="#000" stroke-width="3.5" stroke-linecap="round"/>
<text x="346" y="1094.2" font-family='"Liberation Sans", Arial, Helvetica, sans-serif' font-size="26.5" font-weight="bold" text-anchor="end" letter-spacing="-0.8">1</text>
<line x1="349.95" y1="1203" x2="364" y2="1203" stroke="#000" stroke-width="3.5" stroke-linecap="round"/>
<text x="346" y="1212.2" font-family='"Liberation Sans", Arial, Helvetica, sans-serif' font-size="26.5" font-weight="bold" text-anchor="end" letter-spacing="-0.8">0</text>
<line x1="413.3" y1="1203" x2="413.3" y2="1207.65" stroke="#000" stroke-width="3.5" stroke-linecap="round"/>
<text x="413.3" y="1234.3" font-family='"Liberation Sans", Arial, Helvetica, sans-serif' font-size="25" font-weight="bold" text-anchor="middle">CO</text>
<line x1="487.4" y1="1203" x2="487.4" y2="1207.65" stroke="#000" stroke-width="3.5" stroke-linecap="round"/>
<text x="487.4" y="1234.3" font-family='"Liberation Sans", Arial, Helvetica, sans-serif' font-size="25" font-weight="bold" text-anchor="middle">FO</text>
<text transform="translate(306,1102.5) rotate(-90)" font-family='"Liberation Sans", Arial, Helvetica, sans-serif' font-size="25" font-weight="bold" textLength="269.4" lengthAdjust="spacingAndGlyphs">Long chain bases (<tspan font-family='"Liberation Serif", "DejaVu Serif", serif' font-weight="normal">μ</tspan>M)</text>
<line x1="407.55" y1="785.5" x2="470.75" y2="785.5" stroke="#000" stroke-width="2.1" stroke-linecap="round"/>
<text x="409.42" y="780.82" font-family='"DejaVu Sans", sans-serif' font-weight="bold" font-size="24.22" letter-spacing="2.47">****</text>
<text x="273" y="698.5" font-family='"Liberation Sans", Arial, Helvetica, sans-serif' font-size="50" font-weight="bold" text-anchor="start">g</text>
<rect x="673" y="1052.3" width="43.3" height="151.1" fill="#000000"/>
<rect x="738.1" y="998.5" width="43.9" height="204.9" fill="#000000"/>
<line x1="694.8" y1="1053.3" x2="694.8" y2="1040" stroke="#000" stroke-width="2" stroke-linecap="butt"/>
<line x1="689.05" y1="1040" x2="700.55" y2="1040" stroke="#000" stroke-width="2.2" stroke-linecap="butt"/>
<line x1="760" y1="999.5" x2="760" y2="985.6" stroke="#000" stroke-width="2" stroke-linecap="butt"/>
<line x1="754.25" y1="985.6" x2="765.75" y2="985.6" stroke="#000" stroke-width="2.2" stroke-linecap="butt"/>
<circle cx="684.3" cy="1022.2" r="6.05" fill="#fff" stroke="#000" stroke-width="3.2"/>
<circle cx="704.8" cy="1022.6" r="6.05" fill="#fff" stroke="#000" stroke-width="3.2"/>
<circle cx="694.4" cy="1029" r="6.05" fill="#fff" stroke="#000" stroke-width="3.2"/>
<circle cx="689.4" cy="1043.4" r="6.05" fill="#fff" stroke="#000" stroke-width="3.2"/>
<circle cx="710.3" cy="1048.6" r="6.05" fill="#fff" stroke="#000" stroke-width="3.2"/>
<circle cx="678.9" cy="1054.3" r="6.05" fill="#fff" stroke="#000" stroke-width="3.2"/>
<circle cx="699.6" cy="1054.6" r="6.05" fill="#fff" stroke="#000" stroke-width="3.2"/>
<circle cx="694.4" cy="1069.3" r="6.05" fill="#fff" stroke="#000" stroke-width="3.2"/>
<circle cx="694.4" cy="1084.8" r="6.05" fill="#fff" stroke="#000" stroke-width="3.2"/>
<circle cx="760.1" cy="946.4" r="6.05" fill="#fff" stroke="#000" stroke-width="3.2"/>
<circle cx="775.8" cy="960.7" r="6.05" fill="#fff" stroke="#000" stroke-width="3.2"/>
<circle cx="744.7" cy="971.9" r="6.05" fill="#fff" stroke="#000" stroke-width="3.2"/>
<circle cx="775.8" cy="978.5" r="6.05" fill="#fff" stroke="#000" stroke-width="3.2"/>
<circle cx="744.7" cy="996.7" r="6.05" fill="#fff" stroke="#000" stroke-width="3.2"/>
<circle cx="775.8" cy="1003.1" r="6.05" fill="#fff" stroke="#000" stroke-width="3.2"/>
<circle cx="760.1" cy="1021.2" r="6.05" fill="#fff" stroke="#000" stroke-width="3.2"/>
<circle cx="760.1" cy="1044.1" r="6.05" fill="#fff" stroke="#000" stroke-width="3.2"/>
<circle cx="760.1" cy="1061.8" r="6.05" fill="#fff" stroke="#000" stroke-width="3.2"/>
<line x1="651" y1="871.85" x2="651" y2="1204.9" stroke="#000" stroke-width="3.5" stroke-linecap="round"/>
<line x1="638.95" y1="1203.4" x2="804.95" y2="1203.4" stroke="#000" stroke-width="3.5" stroke-linecap="round"/>
<line x1="638.95" y1="871.6" x2="651" y2="871.6" stroke="#000" stroke-width="3.5" stroke-linecap="round"/>
<text x="633.5" y="880.8" font-family='"Liberation Sans", Arial, Helvetica, sans-serif' font-size="26.5" font-weight="bold" text-anchor="end" letter-spacing="-0.8">4</text>
<line x1="638.95" y1="955" x2="651" y2="955" stroke="#000" stroke-width="3.5" stroke-linecap="round"/>
<text x="633.5" y="964.2" font-family='"Liberation Sans", Arial, Helvetica, sans-serif' font-size="26.5" font-weight="bold" text-anchor="end" letter-spacing="-0.8">3</text>
<line x1="638.95" y1="1037.4" x2="651" y2="1037.4" stroke="#000" stroke-width="3.5" stroke-linecap="round"/>
<text x="633.5" y="1046.6" font-family='"Liberation Sans", Arial, Helvetica, sans-serif' font-size="26.5" font-weight="bold" text-anchor="end" letter-spacing="-0.8">2</text>
<line x1="638.95" y1="1120.4" x2="651" y2="1120.4" stroke="#000" stroke-width="3.5" stroke-linecap="round"/>
<text x="633.5" y="1129.6" font-family='"Liberation Sans", Arial, Helvetica, sans-serif' font-size="26.5" font-weight="bold" text-anchor="end" letter-spacing="-0.8">1</text>
<line x1="638.95" y1="1203.4" x2="651" y2="1203.4" stroke="#000" stroke-width="3.5" stroke-linecap="round"/>
<text x="633.5" y="1212.6" font-family='"Liberation Sans", Arial, Helvetica, sans-serif' font-size="26.5" font-weight="bold" text-anchor="end" letter-spacing="-0.8">0</text>
<line x1="694.3" y1="1203.4" x2="694.3" y2="1208.05" stroke="#000" stroke-width="3.5" stroke-linecap="round"/>
<text x="694.3" y="1234.3" font-family='"Liberation Sans", Arial, Helvetica, sans-serif' font-size="25" font-weight="bold" text-anchor="middle">CO</text>
<line x1="760.2" y1="1203.4" x2="760.2" y2="1208.05" stroke="#000" stroke-width="3.5" stroke-linecap="round"/>
<text x="760.2" y="1234.3" font-family='"Liberation Sans", Arial, Helvetica, sans-serif' font-size="25" font-weight="bold" text-anchor="middle">FO</text>
<text transform="translate(594,1189.5) rotate(-90)" font-family='"Liberation Sans", Arial, Helvetica, sans-serif' font-size="24.5" font-weight="bold" textLength="297.9" lengthAdjust="spacingAndGlyphs">Ratio (S1P+Sa1P)/(Sa+SO)</text>
<line x1="688.6" y1="920" x2="750.7" y2="920" stroke="#000" stroke-width="3.6" stroke-linecap="round"/>
<text x="702.65" y="916.47" font-family='"DejaVu Sans", sans-serif' font-weight="bold" font-size="32.67" letter-spacing="0.66">**</text>
<text x="566.7" y="833" font-family='"Liberation Sans", Arial, Helvetica, sans-serif' font-size="44" font-weight="bold" text-anchor="start">h</text>
<rect x="968.2" y="1141.6" width="42.4" height="56.1" fill="#45F0B0"/>
<rect x="968.2" y="1084.5" width="42.4" height="57.1" fill="#90BEF8"/>
<rect x="968.2" y="1065.6" width="42.4" height="18.9" fill="#0000FF"/>
<rect x="968.2" y="905.3" width="42.4" height="160.3" fill="#FFA0A0"/>
<rect x="968.2" y="778.1" width="42.4" height="127.2" fill="#FF0000"/>
<rect x="1031.5" y="1144" width="42.5" height="53.7" fill="#45F0B0"/>
<rect x="1031.5" y="1112" width="42.5" height="32" fill="#90BEF8"/>
<rect x="1031.5" y="1100.9" width="42.5" height="11.1" fill="#0000FF"/>
<rect x="1031.5" y="979.9" width="42.5" height="121" fill="#FFA0A0"/>
<rect x="1031.5" y="870.4" width="42.5" height="109.5" fill="#FF0000"/>
<line x1="989.3" y1="779.1" x2="989.3" y2="768" stroke="#000" stroke-width="2" stroke-linecap="butt"/>
<line x1="983.8" y1="768" x2="994.8" y2="768" stroke="#000" stroke-width="2.2" stroke-linecap="butt"/>
<line x1="989.3" y1="906.3" x2="989.3" y2="900.5" stroke="#000" stroke-width="2" stroke-linecap="butt"/>
<line x1="983.8" y1="900.5" x2="994.8" y2="900.5" stroke="#000" stroke-width="2.2" stroke-linecap="butt"/>
<line x1="989.3" y1="1066.6" x2="989.3" y2="1064.9" stroke="#000" stroke-width="2" stroke-linecap="butt"/>
<line x1="983.8" y1="1064.9" x2="994.8" y2="1064.9" stroke="#000" stroke-width="2.2" stroke-linecap="butt"/>
<line x1="989.3" y1="1085.5" x2="989.3" y2="1082" stroke="#000" stroke-width="2" stroke-linecap="butt"/>
<line x1="983.8" y1="1082" x2="994.8" y2="1082" stroke="#000" stroke-width="2.2" stroke-linecap="butt"/>
<line x1="989.3" y1="1142.6" x2="989.3" y2="1137.9" stroke="#000" stroke-width="2" stroke-linecap="butt"/>
<line x1="983.8" y1="1137.9" x2="994.8" y2="1137.9" stroke="#000" stroke-width="2.2" stroke-linecap="butt"/>
<line x1="1052.7" y1="871.4" x2="1052.7" y2="867.7" stroke="#000" stroke-width="2" stroke-linecap="butt"/>
<line x1="1047.2" y1="867.7" x2="1058.2" y2="867.7" stroke="#000" stroke-width="2.2" stroke-linecap="butt"/>
<line x1="1052.7" y1="980.9" x2="1052.7" y2="972.6" stroke="#000" stroke-width="2" stroke-linecap="butt"/>
<line x1="1047.2" y1="972.6" x2="1058.2" y2="972.6" stroke="#000" stroke-width="2.2" stroke-linecap="butt"/>
<line x1="1052.7" y1="1101.9" x2="1052.7" y2="1099.2" stroke="#000" stroke-width="2" stroke-linecap="butt"/>
<line x1="1047.2" y1="1099.2" x2="1058.2" y2="1099.2" stroke="#000" stroke-width="2.2" stroke-linecap="butt"/>
<line x1="1052.7" y1="1113" x2="1052.7" y2="1109.7" stroke="#000" stroke-width="2" stroke-linecap="butt"/>
<line x1="1047.2" y1="1109.7" x2="1058.2" y2="1109.7" stroke="#000" stroke-width="2.2" stroke-linecap="butt"/>
<line x1="1052.7" y1="1145" x2="1052.7" y2="1139.6" stroke="#000" stroke-width="2" stroke-linecap="butt"/>
<line x1="1047.2" y1="1139.6" x2="1058.2" y2="1139.6" stroke="#000" stroke-width="2.2" stroke-linecap="butt"/>
<line x1="947.3" y1="729.25" x2="947.3" y2="1199.2" stroke="#000" stroke-width="3.5" stroke-linecap="round"/>
<line x1="934.05" y1="1197.7" x2="1097.05" y2="1197.7" stroke="#000" stroke-width="3.5" stroke-linecap="round"/>
<line x1="934.05" y1="729.2" x2="947.3" y2="729.2" stroke="#000" stroke-width="3.5" stroke-linecap="round"/>
<text x="929" y="738.4" font-family='"Liberation Sans", Arial, Helvetica, sans-serif' font-size="26.5" font-weight="bold" text-anchor="end" letter-spacing="-0.8">0.8</text>
<line x1="934.05" y1="846.3" x2="947.3" y2="846.3" stroke="#000" stroke-width="3.5" stroke-linecap="round"/>
<text x="929" y="855.5" font-family='"Liberation Sans", Arial, Helvetica, sans-serif' font-size="26.5" font-weight="bold" text-anchor="end" letter-spacing="-0.8">0.6</text>
<line x1="934.05" y1="963.8" x2="947.3" y2="963.8" stroke="#000" stroke-width="3.5" stroke-linecap="round"/>
<text x="929" y="973" font-family='"Liberation Sans", Arial, Helvetica, sans-serif' font-size="26.5" font-weight="bold" text-anchor="end" letter-spacing="-0.8">0.4</text>
<line x1="934.05" y1="1080.8" x2="947.3" y2="1080.8" stroke="#000" stroke-width="3.5" stroke-linecap="round"/>
<text x="929" y="1090" font-family='"Liberation Sans", Arial, Helvetica, sans-serif' font-size="26.5" font-weight="bold" text-anchor="end" letter-spacing="-0.8">0.2</text>
<line x1="934.05" y1="1197.7" x2="947.3" y2="1197.7" stroke="#000" stroke-width="3.5" stroke-linecap="round"/>
<text x="929" y="1206.9" font-family='"Liberation Sans", Arial, Helvetica, sans-serif' font-size="26.5" font-weight="bold" text-anchor="end" letter-spacing="-0.8">0.0</text>
<line x1="988.6" y1="1197.7" x2="988.6" y2="1202.75" stroke="#000" stroke-width="3.5" stroke-linecap="round"/>
<text x="988.6" y="1230.2" font-family='"Liberation Sans", Arial, Helvetica, sans-serif' font-size="25" font-weight="bold" text-anchor="middle">CO</text>
<line x1="1052.7" y1="1197.7" x2="1052.7" y2="1202.75" stroke="#000" stroke-width="3.5" stroke-linecap="round"/>
<text x="1052.7" y="1230.2" font-family='"Liberation Sans", Arial, Helvetica, sans-serif' font-size="25" font-weight="bold" text-anchor="middle">FO</text>
<text transform="translate(883,1104.6) rotate(-90)" font-family='"Liberation Sans", Arial, Helvetica, sans-serif' font-size="25" font-weight="bold" textLength="279" lengthAdjust="spacingAndGlyphs">Dihydroceramides (<tspan font-family='"Liberation Serif", "DejaVu Serif", serif' font-weight="normal">μ</tspan>M)</text>
<line x1="990.65" y1="753.1" x2="1052.85" y2="753.1" stroke="#000" stroke-width="3.5" stroke-linecap="round"/>
<text x="992.01" y="748.39" font-family='"DejaVu Sans", sans-serif' font-weight="bold" font-size="24.44" letter-spacing="2.29">****</text>
<text x="878.7" y="698.6" font-family='"Liberation Sans", Arial, Helvetica, sans-serif' font-size="50" font-weight="bold" text-anchor="start">i</text>
<rect x="1258.3" y="1143" width="42.5" height="57.3" fill="#45F0B0"/>
<rect x="1258.3" y="1129.2" width="42.5" height="13.8" fill="#90BEF8"/>
<rect x="1258.3" y="1114" width="42.5" height="15.2" fill="#FFA040"/>
<rect x="1258.3" y="1038.8" width="42.5" height="75.2" fill="#FFFF00"/>
<rect x="1258.3" y="920.6" width="42.5" height="118.2" fill="#FF8080"/>
<rect x="1258.3" y="792" width="42.5" height="128.6" fill="#FF0000"/>
<rect x="1322.3" y="1144.7" width="42.7" height="55.6" fill="#45F0B0"/>
<rect x="1322.3" y="1135.3" width="42.7" height="9.4" fill="#90BEF8"/>
<rect x="1322.3" y="1124.3" width="42.7" height="11" fill="#FFA040"/>
<rect x="1322.3" y="1058.1" width="42.7" height="66.2" fill="#FFFF00"/>
<rect x="1322.3" y="967" width="42.7" height="91.1" fill="#FF8080"/>
<rect x="1322.3" y="870.3" width="42.7" height="96.7" fill="#FF0000"/>
<line x1="1280" y1="793" x2="1280" y2="784" stroke="#000" stroke-width="2" stroke-linecap="butt"/>
<line x1="1274.5" y1="784" x2="1285.5" y2="784" stroke="#000" stroke-width="2.2" stroke-linecap="butt"/>
<line x1="1280" y1="921.6" x2="1280" y2="917.7" stroke="#000" stroke-width="2" stroke-linecap="butt"/>
<line x1="1274.5" y1="917.7" x2="1285.5" y2="917.7" stroke="#000" stroke-width="2.2" stroke-linecap="butt"/>
<line x1="1280" y1="1039.8" x2="1280" y2="1036" stroke="#000" stroke-width="2" stroke-linecap="butt"/>
<line x1="1274.5" y1="1036" x2="1285.5" y2="1036" stroke="#000" stroke-width="2.2" stroke-linecap="butt"/>
<line x1="1280" y1="1115" x2="1280" y2="1113.5" stroke="#000" stroke-width="2" stroke-linecap="butt"/>
<line x1="1274.5" y1="1113.5" x2="1285.5" y2="1113.5" stroke="#000" stroke-width="2.2" stroke-linecap="butt"/>
<line x1="1280" y1="1130.2" x2="1280" y2="1128.7" stroke="#000" stroke-width="2" stroke-linecap="butt"/>
<line x1="1274.5" y1="1128.7" x2="1285.5" y2="1128.7" stroke="#000" stroke-width="2.2" stroke-linecap="butt"/>
<line x1="1280" y1="1144" x2="1280" y2="1140.5" stroke="#000" stroke-width="2" stroke-linecap="butt"/>
<line x1="1274.5" y1="1140.5" x2="1285.5" y2="1140.5" stroke="#000" stroke-width="2.2" stroke-linecap="butt"/>
<line x1="1343.9" y1="871.3" x2="1343.9" y2="867.1" stroke="#000" stroke-width="2" stroke-linecap="butt"/>
<line x1="1338.4" y1="867.1" x2="1349.4" y2="867.1" stroke="#000" stroke-width="2.2" stroke-linecap="butt"/>
<line x1="1343.9" y1="968" x2="1343.9" y2="962.5" stroke="#000" stroke-width="2" stroke-linecap="butt"/>
<line x1="1338.4" y1="962.5" x2="1349.4" y2="962.5" stroke="#000" stroke-width="2.2" stroke-linecap="butt"/>
<line x1="1343.9" y1="1059.1" x2="1343.9" y2="1055.7" stroke="#000" stroke-width="2" stroke-linecap="butt"/>
<line x1="1338.4" y1="1055.7" x2="1349.4" y2="1055.7" stroke="#000" stroke-width="2.2" stroke-linecap="butt"/>
<line x1="1343.9" y1="1125.3" x2="1343.9" y2="1123.3" stroke="#000" stroke-width="2" stroke-linecap="butt"/>
<line x1="1338.4" y1="1123.3" x2="1349.4" y2="1123.3" stroke="#000" stroke-width="2.2" stroke-linecap="butt"/>
<line x1="1343.9" y1="1136.3" x2="1343.9" y2="1133.6" stroke="#000" stroke-width="2" stroke-linecap="butt"/>
<line x1="1338.4" y1="1133.6" x2="1349.4" y2="1133.6" stroke="#000" stroke-width="2.2" stroke-linecap="butt"/>
<line x1="1343.9" y1="1145.7" x2="1343.9" y2="1137.3" stroke="#000" stroke-width="2" stroke-linecap="butt"/>
<line x1="1338.4" y1="1137.3" x2="1349.4" y2="1137.3" stroke="#000" stroke-width="2.2" stroke-linecap="butt"/>
<line x1="1237.2" y1="730.4" x2="1237.2" y2="1201.8" stroke="#000" stroke-width="4.4" stroke-linecap="round"/>
<line x1="1225.7" y1="1200.3" x2="1386.8" y2="1200.3" stroke="#000" stroke-width="4.4" stroke-linecap="round"/>
<line x1="1223.4" y1="731.7" x2="1237.2" y2="731.7" stroke="#000" stroke-width="4.4" stroke-linecap="round"/>
<text transform="translate(1220,739.76) scale(1,1.09)" font-family='"Liberation Sans", Arial, Helvetica, sans-serif' font-size="21.3" font-weight="bold" text-anchor="end" letter-spacing="-0.6">3</text>
<line x1="1223.4" y1="887.4" x2="1237.2" y2="887.4" stroke="#000" stroke-width="4.4" stroke-linecap="round"/>
<text transform="translate(1220,895.46) scale(1,1.09)" font-family='"Liberation Sans", Arial, Helvetica, sans-serif' font-size="21.3" font-weight="bold" text-anchor="end" letter-spacing="-0.6">2</text>
<line x1="1223.4" y1="1044.4" x2="1237.2" y2="1044.4" stroke="#000" stroke-width="4.4" stroke-linecap="round"/>
<text transform="translate(1220,1052.46) scale(1,1.09)" font-family='"Liberation Sans", Arial, Helvetica, sans-serif' font-size="21.3" font-weight="bold" text-anchor="end" letter-spacing="-0.6">1</text>
<line x1="1223.4" y1="1200.3" x2="1237.2" y2="1200.3" stroke="#000" stroke-width="4.4" stroke-linecap="round"/>
<text transform="translate(1220,1208.36) scale(1,1.09)" font-family='"Liberation Sans", Arial, Helvetica, sans-serif' font-size="21.3" font-weight="bold" text-anchor="end" letter-spacing="-0.6">0</text>
<line x1="1279.2" y1="1200.3" x2="1279.2" y2="1206.3" stroke="#000" stroke-width="4.4" stroke-linecap="round"/>
<text transform="translate(1279.2,1231.2) scale(1,1.13)" font-family='"Liberation Sans", Arial, Helvetica, sans-serif' font-size="21.3" font-weight="bold" text-anchor="middle">CO</text>
<line x1="1343.6" y1="1200.3" x2="1343.6" y2="1206.3" stroke="#000" stroke-width="4.4" stroke-linecap="round"/>
<text transform="translate(1343.6,1231.2) scale(1,1.13)" font-family='"Liberation Sans", Arial, Helvetica, sans-serif' font-size="21.3" font-weight="bold" text-anchor="middle">FO</text>
<text transform="translate(1191.5,1058.4) rotate(-90)" font-family='"Liberation Sans", Arial, Helvetica, sans-serif' font-size="25" font-weight="bold" textLength="183.6" lengthAdjust="spacingAndGlyphs">Ceramides (<tspan font-family='"Liberation Serif", "DejaVu Serif", serif' font-weight="normal">μ</tspan>M)</text>
<line x1="1283.5" y1="756.8" x2="1341.2" y2="756.8" stroke="#000" stroke-width="4.4" stroke-linecap="round"/>
<text x="1286.37" y="752.25" font-family='"DejaVu Sans", sans-serif' font-weight="bold" font-size="21.56" letter-spacing="1.98">****</text>
<text x="1176.8" y="698.5" font-family='"Liberation Sans", Arial, Helvetica, sans-serif' font-size="50" font-weight="bold" text-anchor="start">j</text>
<rect x="1555.2" y="1195.4" width="42.8" height="4.2" fill="#F250D8"/>
<rect x="1555.2" y="1110.2" width="42.8" height="85.2" fill="#45F0B0"/>
<rect x="1555.2" y="1096" width="42.8" height="14.2" fill="#90BEF8"/>
<rect x="1555.2" y="1049" width="42.8" height="47" fill="#FFA0A0"/>
<rect x="1555.2" y="834" width="42.8" height="215" fill="#FF0000"/>
<rect x="1619" y="1089.9" width="42.8" height="109.7" fill="#45F0B0"/>
<rect x="1619" y="1077.2" width="42.8" height="12.7" fill="#90BEF8"/>
<rect x="1619" y="1046" width="42.8" height="31.2" fill="#FFA0A0"/>
<rect x="1619" y="899.8" width="42.8" height="146.2" fill="#FF0000"/>
<line x1="1576" y1="835" x2="1576" y2="821.4" stroke="#000" stroke-width="2" stroke-linecap="butt"/>
<line x1="1565.25" y1="821.4" x2="1586.75" y2="821.4" stroke="#000" stroke-width="3.6" stroke-linecap="butt"/>
<line x1="1576" y1="1050" x2="1576" y2="1047.8" stroke="#000" stroke-width="2" stroke-linecap="butt"/>
<line x1="1570.5" y1="1047.8" x2="1581.5" y2="1047.8" stroke="#000" stroke-width="2.2" stroke-linecap="butt"/>
<line x1="1576" y1="1097" x2="1576" y2="1094.3" stroke="#000" stroke-width="2" stroke-linecap="butt"/>
<line x1="1570.5" y1="1094.3" x2="1581.5" y2="1094.3" stroke="#000" stroke-width="2.2" stroke-linecap="butt"/>
<line x1="1576" y1="1111.2" x2="1576" y2="1105.8" stroke="#000" stroke-width="2" stroke-linecap="butt"/>
<line x1="1570.5" y1="1105.8" x2="1581.5" y2="1105.8" stroke="#000" stroke-width="2.2" stroke-linecap="butt"/>
<line x1="1576" y1="1196.4" x2="1576" y2="1195" stroke="#000" stroke-width="2" stroke-linecap="butt"/>
<line x1="1570.5" y1="1195" x2="1581.5" y2="1195" stroke="#000" stroke-width="2.2" stroke-linecap="butt"/>
<line x1="1640" y1="900.8" x2="1640" y2="894.2" stroke="#000" stroke-width="2" stroke-linecap="butt"/>
<line x1="1629.25" y1="894.2" x2="1650.75" y2="894.2" stroke="#000" stroke-width="3.6" stroke-linecap="butt"/>
<line x1="1640" y1="1047" x2="1640" y2="1045.8" stroke="#000" stroke-width="2" stroke-linecap="butt"/>
<line x1="1634.5" y1="1045.8" x2="1645.5" y2="1045.8" stroke="#000" stroke-width="2.2" stroke-linecap="butt"/>
<line x1="1640" y1="1078.2" x2="1640" y2="1076.7" stroke="#000" stroke-width="2" stroke-linecap="butt"/>
<line x1="1634.5" y1="1076.7" x2="1645.5" y2="1076.7" stroke="#000" stroke-width="2.2" stroke-linecap="butt"/>
<line x1="1640" y1="1090.9" x2="1640" y2="1085.7" stroke="#000" stroke-width="2" stroke-linecap="butt"/>
<line x1="1634.5" y1="1085.7" x2="1645.5" y2="1085.7" stroke="#000" stroke-width="2.2" stroke-linecap="butt"/>
<line x1="1534" y1="729.95" x2="1534" y2="1201.1" stroke="#000" stroke-width="3.5" stroke-linecap="round"/>
<line x1="1521.05" y1="1199.6" x2="1683.55" y2="1199.6" stroke="#000" stroke-width="3.5" stroke-linecap="round"/>
<line x1="1521.05" y1="730.4" x2="1534" y2="730.4" stroke="#000" stroke-width="3.5" stroke-linecap="round"/>
<text x="1515.5" y="739.6" font-family='"Liberation Sans", Arial, Helvetica, sans-serif' font-size="26.5" font-weight="bold" text-anchor="end" letter-spacing="-0.8">150</text>
<line x1="1521.05" y1="887" x2="1534" y2="887" stroke="#000" stroke-width="3.5" stroke-linecap="round"/>
<text x="1515.5" y="896.2" font-family='"Liberation Sans", Arial, Helvetica, sans-serif' font-size="26.5" font-weight="bold" text-anchor="end" letter-spacing="-0.8">100</text>
<line x1="1521.05" y1="1043.6" x2="1534" y2="1043.6" stroke="#000" stroke-width="3.5" stroke-linecap="round"/>
<text x="1515.5" y="1052.8" font-family='"Liberation Sans", Arial, Helvetica, sans-serif' font-size="26.5" font-weight="bold" text-anchor="end" letter-spacing="-0.8">50</text>
<line x1="1521.05" y1="1199.6" x2="1534" y2="1199.6" stroke="#000" stroke-width="3.5" stroke-linecap="round"/>
<text x="1515.5" y="1208.8" font-family='"Liberation Sans", Arial, Helvetica, sans-serif' font-size="26.5" font-weight="bold" text-anchor="end" letter-spacing="-0.8">0</text>
<line x1="1576.3" y1="1199.6" x2="1576.3" y2="1204.75" stroke="#000" stroke-width="3.5" stroke-linecap="round"/>
<text x="1576.3" y="1231.5" font-family='"Liberation Sans", Arial, Helvetica, sans-serif' font-size="25" font-weight="bold" text-anchor="middle">CO</text>
<line x1="1640" y1="1199.6" x2="1640" y2="1204.75" stroke="#000" stroke-width="3.5" stroke-linecap="round"/>
<text x="1640" y="1231.5" font-family='"Liberation Sans", Arial, Helvetica, sans-serif' font-size="25" font-weight="bold" text-anchor="middle">FO</text>
<text transform="translate(1463.7,1094.4) rotate(-90)" font-family='"Liberation Sans", Arial, Helvetica, sans-serif' font-size="25" font-weight="bold" textLength="255.4" lengthAdjust="spacingAndGlyphs">Sphingomyelins (<tspan font-family='"Liberation Serif", "DejaVu Serif", serif' font-weight="normal">μ</tspan>M)</text>
<line x1="1577.25" y1="754.4" x2="1639.95" y2="754.4" stroke="#000" stroke-width="3.7" stroke-linecap="round"/>
<text x="1579.02" y="749.36" font-family='"DejaVu Sans", sans-serif' font-weight="bold" font-size="24" letter-spacing="2.55">****</text>
<text x="1436.8" y="700" font-family='"Liberation Sans", Arial, Helvetica, sans-serif' font-size="50" font-weight="bold" text-anchor="start">k</text>
<rect x="1878" y="1043.7" width="42.7" height="157.3" fill="#45F0B0"/>
<rect x="1878" y="797.3" width="42.7" height="246.4" fill="#FF0000"/>
<rect x="1942.2" y="1119.4" width="42.8" height="81.6" fill="#45F0B0"/>
<rect x="1942.2" y="959.6" width="42.8" height="159.8" fill="#FF0000"/>
<line x1="1899" y1="798.3" x2="1899" y2="785.8" stroke="#000" stroke-width="2" stroke-linecap="butt"/>
<line x1="1893.5" y1="785.8" x2="1904.5" y2="785.8" stroke="#000" stroke-width="2.2" stroke-linecap="butt"/>
<line x1="1899" y1="1044.7" x2="1899" y2="1038" stroke="#000" stroke-width="2" stroke-linecap="butt"/>
<line x1="1893.5" y1="1038" x2="1904.5" y2="1038" stroke="#000" stroke-width="2.2" stroke-linecap="butt"/>
<line x1="1963" y1="960.6" x2="1963" y2="954.2" stroke="#000" stroke-width="2" stroke-linecap="butt"/>
<line x1="1957.5" y1="954.2" x2="1968.5" y2="954.2" stroke="#000" stroke-width="2.2" stroke-linecap="butt"/>
<line x1="1963" y1="1120.4" x2="1963" y2="1114.7" stroke="#000" stroke-width="2" stroke-linecap="butt"/>
<line x1="1957.5" y1="1114.7" x2="1968.5" y2="1114.7" stroke="#000" stroke-width="2.2" stroke-linecap="butt"/>
<line x1="1857" y1="729.95" x2="1857" y2="1202.5" stroke="#000" stroke-width="3.5" stroke-linecap="round"/>
<line x1="1842.95" y1="1201" x2="2007.75" y2="1201" stroke="#000" stroke-width="3.5" stroke-linecap="round"/>
<line x1="1842.95" y1="730.3" x2="1857" y2="730.3" stroke="#000" stroke-width="3.5" stroke-linecap="round"/>
<text x="1838.5" y="739.5" font-family='"Liberation Sans", Arial, Helvetica, sans-serif' font-size="26.5" font-weight="bold" text-anchor="end" letter-spacing="-0.8">2.0</text>
<line x1="1842.95" y1="848.6" x2="1857" y2="848.6" stroke="#000" stroke-width="3.5" stroke-linecap="round"/>
<text x="1838.5" y="857.8" font-family='"Liberation Sans", Arial, Helvetica, sans-serif' font-size="26.5" font-weight="bold" text-anchor="end" letter-spacing="-0.8">1.5</text>
<line x1="1842.95" y1="965.2" x2="1857" y2="965.2" stroke="#000" stroke-width="3.5" stroke-linecap="round"/>
<text x="1838.5" y="974.4" font-family='"Liberation Sans", Arial, Helvetica, sans-serif' font-size="26.5" font-weight="bold" text-anchor="end" letter-spacing="-0.8">1.0</text>
<line x1="1842.95" y1="1082.9" x2="1857" y2="1082.9" stroke="#000" stroke-width="3.5" stroke-linecap="round"/>
<text x="1838.5" y="1092.1" font-family='"Liberation Sans", Arial, Helvetica, sans-serif' font-size="26.5" font-weight="bold" text-anchor="end" letter-spacing="-0.8">0.5</text>
<line x1="1842.95" y1="1201" x2="1857" y2="1201" stroke="#000" stroke-width="3.5" stroke-linecap="round"/>
<text x="1838.5" y="1210.2" font-family='"Liberation Sans", Arial, Helvetica, sans-serif' font-size="26.5" font-weight="bold" text-anchor="end" letter-spacing="-0.8">0.0</text>
<line x1="1899.3" y1="1201" x2="1899.3" y2="1205.85" stroke="#000" stroke-width="3.5" stroke-linecap="round"/>
<text x="1899.3" y="1233.6" font-family='"Liberation Sans", Arial, Helvetica, sans-serif' font-size="25" font-weight="bold" text-anchor="middle">CO</text>
<line x1="1963" y1="1201" x2="1963" y2="1205.85" stroke="#000" stroke-width="3.5" stroke-linecap="round"/>
<text x="1963" y="1233.6" font-family='"Liberation Sans", Arial, Helvetica, sans-serif' font-size="25" font-weight="bold" text-anchor="middle">FO</text>
<text transform="translate(1794.3,1113.5) rotate(-90)" font-family='"Liberation Sans", Arial, Helvetica, sans-serif' font-size="25" font-weight="bold" textLength="292.3" lengthAdjust="spacingAndGlyphs">Glucosylceramides (<tspan font-family='"Liberation Serif", "DejaVu Serif", serif' font-weight="normal">μ</tspan>M)</text>
<line x1="1900.3" y1="764.5" x2="1963.1" y2="764.5" stroke="#000" stroke-width="3.6" stroke-linecap="round"/>
<text x="1902.84" y="759.5" font-family='"DejaVu Sans", sans-serif' font-weight="bold" font-size="23.11" letter-spacing="2.93">****</text>
<text x="1760.3" y="698.5" font-family='"Liberation Sans", Arial, Helvetica, sans-serif' font-size="50" font-weight="bold" text-anchor="start">l</text>
<rect x="17" y="39" width="36" height="15" fill="#A1A0A5"/>
<text x="73.5" y="55.9" font-family='"Liberation Sans", Arial, Helvetica, sans-serif' font-size="25" font-weight="normal" text-anchor="start">S1P</text>
<rect x="17" y="64.2" width="36" height="14.8" fill="#F5A8E6"/>
<text x="73.5" y="81.1" font-family='"Liberation Sans", Arial, Helvetica, sans-serif' font-size="25" font-weight="normal" text-anchor="start">Sphingosine</text>
<rect x="17" y="89.2" width="36" height="14.8" fill="#616161"/>
<text x="73.5" y="105.9" font-family='"Liberation Sans", Arial, Helvetica, sans-serif' font-size="25" font-weight="normal" text-anchor="start">Spinganine-1P</text>
<rect x="17" y="116" width="36" height="14.8" fill="#FFBF80"/>
<text x="73.5" y="133" font-family='"Liberation Sans", Arial, Helvetica, sans-serif' font-size="25" font-weight="normal" text-anchor="start">Sphinganine</text>
<rect x="13" y="533" width="44" height="15" fill="#FF0000"/>
<text x="80.3" y="549.6" font-family='"Liberation Sans", Arial, Helvetica, sans-serif' font-size="27.5" font-weight="normal" text-anchor="start">d18:1/C24:1</text>
<rect x="13" y="564" width="44" height="15" fill="#FFA0A0"/>
<text x="80.3" y="580.8" font-family='"Liberation Sans", Arial, Helvetica, sans-serif' font-size="27.5" font-weight="normal" text-anchor="start">d18:1/C24:0</text>
<rect x="13" y="592.5" width="44" height="15.2" fill="#FFFF00"/>
<text x="80.3" y="610.2" font-family='"Liberation Sans", Arial, Helvetica, sans-serif' font-size="27.5" font-weight="normal" text-anchor="start">d18:1/C22:0</text>
<rect x="13" y="621.5" width="44" height="14.8" fill="#FFA040"/>
<text x="80.3" y="638.8" font-family='"Liberation Sans", Arial, Helvetica, sans-serif' font-size="27.5" font-weight="normal" text-anchor="start">d18:1/C20:0</text>
<rect x="13" y="649" width="44" height="15" fill="#0000FF"/>
<text x="80.3" y="666" font-family='"Liberation Sans", Arial, Helvetica, sans-serif' font-size="27.5" font-weight="normal" text-anchor="start">d18:1/C18:1</text>
<rect x="13" y="678.7" width="44" height="15.1" fill="#90BEF8"/>
<text x="80.3" y="695.8" font-family='"Liberation Sans", Arial, Helvetica, sans-serif' font-size="27.5" font-weight="normal" text-anchor="start">d18:1/C18:0</text>
<rect x="13" y="711.7" width="44" height="15.1" fill="#45F0B0"/>
<text x="80.3" y="728.6" font-family='"Liberation Sans", Arial, Helvetica, sans-serif' font-size="27.5" font-weight="normal" text-anchor="start">d18:1/C16:0</text>
<rect x="13" y="741.4" width="44" height="15.2" fill="#F250D8"/>
<text x="80.3" y="758.8" font-family='"Liberation Sans", Arial, Helvetica, sans-serif' font-size="27.5" font-weight="normal" text-anchor="start">d18:1/C12:0</text>
<text x="72" y="311" font-family='"Liberation Sans", Arial, Helvetica, sans-serif' font-size="50.3" font-weight="bold" text-anchor="start">Lung</text>
<text x="72" y="973.6" font-family='"Liberation Sans", Arial, Helvetica, sans-serif' font-size="51" font-weight="bold" text-anchor="start">Blood</text>
</svg>
</body></html>
